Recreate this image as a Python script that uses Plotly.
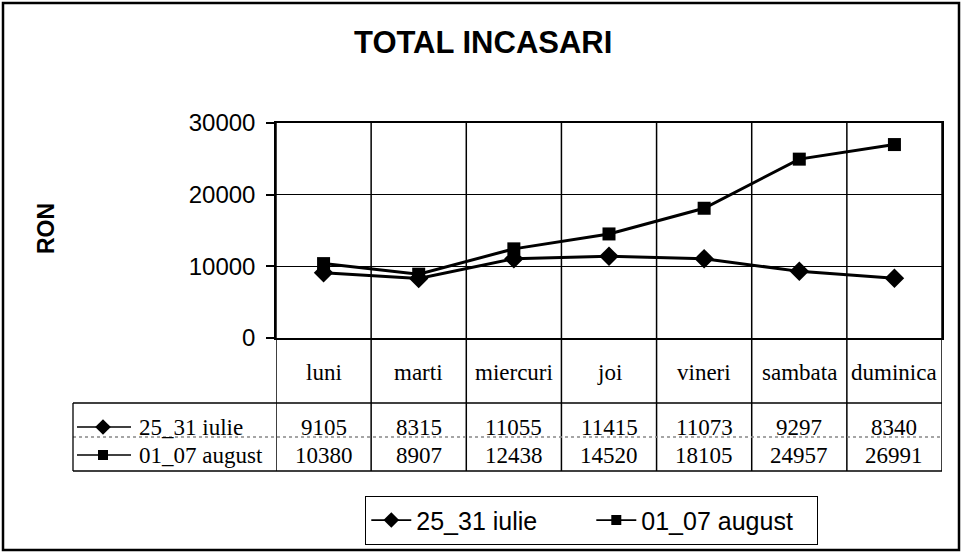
import plotly.graph_objects as go

categories = ["luni", "marti", "miercuri", "joi", "vineri", "sambata", "duminica"]
series_names = ["25_31 iulie", "01_07 august"]
iulie = [9105, 8315, 11055, 11415, 11073, 9297, 8340]
august = [10380, 8907, 12438, 14520, 18105, 24957, 26991]
y_ticks = [0, 10000, 20000, 30000]
title_text = "TOTAL INCASARI"
y_title = "RON"

W, H = 961, 552


def px(x):
    return x / W


def py(y):
    return 1 - y / H


PL, PR, PT, PB = 276, 942, 123, 338
TB_TOP, TB_MID, TB_BOT, TB_LEFT = 403, 437, 471, 73
HEAD_Y, ROW_Y = 372, [427, 455]
SERIF = "Liberation Serif, Times New Roman, serif"
SANS = "Liberation Sans, Arial, sans-serif"

symbols = ["diamond", "square"]
msize = [15, 13]
values = [iulie, august]

fig = go.Figure()
for name, vals, sym, ms in zip(series_names, values, symbols, msize):
    fig.add_trace(go.Scatter(
        x=categories, y=vals, name=name, mode="lines+markers",
        line=dict(color="black", width=3),
        marker=dict(symbol=sym, size=ms, color="black"),
        showlegend=False,
    ))

# legend-only entries (thinner key lines, as in the reference legend)
for name, sym, ms in zip(series_names, symbols, msize):
    fig.add_trace(go.Scatter(
        x=[None], y=[None], name=name, mode="lines+markers",
        line=dict(color="black", width=1.8),
        marker=dict(symbol=sym, size=ms - 3, color="black"),
        showlegend=True,
    ))

# legend keys inside the data table (overlay axis in pixel units)
for i, (sym, ms) in enumerate(zip(symbols, msize)):
    yk = ROW_Y[i]
    fig.add_trace(go.Scatter(
        x=[77, 131], y=[yk, yk], mode="lines",
        line=dict(color="black", width=1.5),
        xaxis="x2", yaxis="y2", showlegend=False, hoverinfo="skip",
    ))
    fig.add_trace(go.Scatter(
        x=[103], y=[yk], mode="markers",
        marker=dict(symbol=sym, size=ms - 3, color="black"),
        xaxis="x2", yaxis="y2", showlegend=False, hoverinfo="skip",
    ))

shapes = []
# outer border
shapes.append(dict(type="rect", xref="paper", yref="paper",
                   x0=px(3), x1=px(959), y0=py(550), y1=py(3),
                   line=dict(color="black", width=2.5)))
# vertical category dividers through plot and table
n = len(categories)
for i in range(n + 1):
    shapes.append(dict(type="line", xref="x", yref="paper",
                       x0=i - 0.5, x1=i - 0.5, y0=py(TB_BOT), y1=py(PT),
                       line=dict(color="black", width=1.5), layer="below"))
# table horizontal lines
for yy, dash, col in [(TB_TOP, "solid", "black"), (TB_MID, "dot", "#888888"), (TB_BOT, "solid", "black")]:
    shapes.append(dict(type="line", xref="paper", yref="paper",
                       x0=px(TB_LEFT), x1=px(PR), y0=py(yy), y1=py(yy),
                       line=dict(color=col, width=1.3, dash=dash)))
shapes.append(dict(type="line", xref="paper", yref="paper",
                   x0=px(TB_LEFT), x1=px(TB_LEFT), y0=py(TB_BOT), y1=py(TB_TOP),
                   line=dict(color="black", width=1.3)))

annotations = []
annotations.append(dict(text="<b>" + title_text + "</b>", xref="paper", yref="paper",
                        x=px(483), y=py(42), showarrow=False,
                        font=dict(family=SANS, size=31, color="black"),
                        xanchor="center", yanchor="middle"))
annotations.append(dict(text="<b>" + y_title + "</b>", xref="paper", yref="paper",
                        x=px(46), y=py(229), showarrow=False, textangle=-90,
                        font=dict(family=SANS, size=23, color="black"),
                        xanchor="center", yanchor="middle"))
TFS = 23
for c in categories:
    annotations.append(dict(text=c, xref="x", yref="paper", x=c, y=py(HEAD_Y),
                            showarrow=False, font=dict(family=SERIF, size=TFS, color="black"),
                            xanchor="center", yanchor="middle"))
for r, (name, vals) in enumerate(zip(series_names, values)):
    annotations.append(dict(text=name, xref="paper", yref="paper", x=px(137), y=py(ROW_Y[r]),
                            showarrow=False, font=dict(family=SERIF, size=TFS, color="black"),
                            xanchor="left", yanchor="middle"))
    for c, v in zip(categories, vals):
        annotations.append(dict(text=str(v), xref="x", yref="paper", x=c, y=py(ROW_Y[r]),
                                showarrow=False, font=dict(family=SERIF, size=TFS, color="black"),
                                xanchor="center", yanchor="middle"))

fig.update_layout(
    width=W, height=H,
    margin=dict(l=0, r=0, t=0, b=0, autoexpand=False),
    paper_bgcolor="white", plot_bgcolor="rgba(0,0,0,0)",
    showlegend=True,
    legend=dict(orientation="h", x=px(365), y=py(496), xanchor="left", yanchor="top",
                bordercolor="black", borderwidth=1.3, bgcolor="white",
                font=dict(family=SANS, size=25, color="black"),
                itemwidth=40, tracegroupgap=0, entrywidth=170, entrywidthmode="pixels"),
    xaxis=dict(domain=[px(PL), px(PR)], range=[-0.5, n - 0.5], type="category",
               categoryorder="array", categoryarray=categories,
               showticklabels=False, showgrid=False, zeroline=False,
               showline=True, linecolor="black", linewidth=1.5, mirror=True, ticks=""),
    yaxis=dict(domain=[py(PB), py(PT)], range=[0, 30000], tickvals=y_ticks,
               ticktext=[str(v) for v in y_ticks],
               showgrid=True, gridcolor="black", gridwidth=1.3, zeroline=False,
               showline=True, linecolor="black", linewidth=1.5, mirror=True,
               ticks="outside", ticklen=8, tickcolor="black", tickwidth=1.5,
               ticklabelstandoff=6,
               tickfont=dict(family=SANS, size=24, color="black")),
    xaxis2=dict(domain=[0, 1], range=[0, W], visible=False, anchor="y2"),
    yaxis2=dict(domain=[0, 1], range=[H, 0], visible=False, anchor="x2"),
    shapes=shapes,
    annotations=annotations,
)

fig.write_html("out.html", config={"displayModeBar": False},
               post_script="document.body.style.margin='0';document.body.style.overflow='hidden';")
